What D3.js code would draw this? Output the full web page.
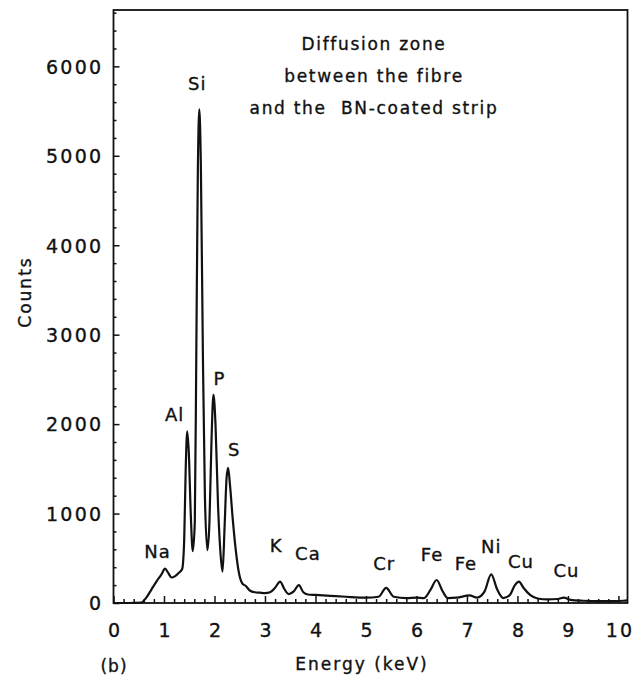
<!DOCTYPE html>
<html>
<head>
<meta charset="utf-8">
<script src="https://d3js.org/d3.v7.min.js"></script>
<style>
  body { margin: 0; background: #fff; }
  text { font-family: "DejaVu Sans", sans-serif; fill: #111; stroke: #111; stroke-width: 0.35px; }
</style>
</head>
<body>
<svg width="633" height="680" id="svg_eds"></svg>
<script>

// spectrum (energy in keV, counts)
var energy = [0.0, 0.3, 0.55, 0.65, 0.75, 0.85, 0.95, 1.02, 1.08, 1.15, 1.22, 1.3, 1.36,
  1.40, 1.43, 1.46, 1.49, 1.53, 1.57, 1.61, 1.64, 1.67, 1.70, 1.73, 1.77, 1.81, 1.86,
  1.90, 1.94, 1.98, 2.02, 2.07, 2.12, 2.16, 2.20, 2.24, 2.27, 2.31, 2.36, 2.42, 2.48,
  2.55, 2.62, 2.70, 2.8, 2.9, 3.0, 3.1, 3.2, 3.3, 3.38, 3.47, 3.57, 3.67, 3.76, 3.85,
  4.0, 4.3, 4.6, 5.0, 5.25, 5.40, 5.55, 5.8, 6.0, 6.15, 6.28, 6.40, 6.52, 6.62, 6.8,
  7.05, 7.2, 7.35, 7.48, 7.6, 7.72, 7.85, 7.95, 8.03, 8.12, 8.25, 8.4, 8.6, 8.8, 8.92,
  9.05, 9.3, 9.6, 9.9, 10.1, 10.18];
var counts = [0, 0, 5, 60, 150, 240, 320, 385, 340, 285, 300, 340, 380,
  700, 1500, 1920, 1700, 1000, 580, 900, 2800, 4800, 5520, 4900, 2800, 1200, 590,
  900, 1800, 2330, 2000, 1100, 550, 350, 850, 1400, 1510, 1300, 950, 600, 350,
  220, 190, 140, 120, 115, 110, 120, 170, 240, 160, 100, 130, 200, 120, 95,
  90, 80, 70, 60, 70, 170, 70, 55, 60, 55, 150, 257, 130, 55, 60,
  85, 60, 130, 320, 150, 55, 90, 200, 240, 170, 90, 50, 40, 45, 60,
  35, 25, 20, 20, 25, 30];

// peak labels
var peak_names = ["Na", "Al", "Si", "P", "S", "K", "Ca", "Cr", "Fe", "Fe", "Ni", "Cu", "Cu"];
var peak_x = [0.87, 1.21, 1.66, 2.1, 2.39, 3.22, 3.85, 5.36, 6.31, 6.98, 7.48, 8.07, 8.97];
var peak_y = [500, 2040, 5740, 2440, 1640, 570, 480, 370, 470, 370, 560, 390, 290];

var x_ticks = [0, 1, 2, 3, 4, 5, 6, 7, 8, 9, 10];
var y_ticks = [0, 1000, 2000, 3000, 4000, 5000, 6000];

var note_lines = ["Diffusion zone", "between the fibre", "and the  BN-coated strip"];

var svg = d3.select("#svg_eds");

var x = d3.scaleLinear().domain([0, 10.18]).range([113.5, 627.5]);
var y = d3.scaleLinear().domain([0, 6630]).range([603, 10]);

// minor ticks
var x_minor = d3.range(0, 10.01, 0.2).filter(function(d) { return Math.abs(d - Math.round(d)) > 0.01; });
var y_minor = d3.range(0, 6601, 200).filter(function(d) { return d % 1000 != 0; });

svg.append("g")
    .attr("transform", "translate(0," + y(0) + ")")
    .call(d3.axisBottom(x).tickValues(x_minor).tickSizeInner(-4).tickSizeOuter(0).tickFormat(""))
    .call(function(g) { g.select(".domain").remove(); });

svg.append("g")
    .attr("transform", "translate(" + x(0) + ",0)")
    .call(d3.axisLeft(y).tickValues(y_minor).tickSizeInner(-3).tickSizeOuter(0).tickFormat(""))
    .call(function(g) { g.select(".domain").remove(); });

// major ticks and labels
var xAxis = svg.append("g")
    .attr("transform", "translate(0," + y(0) + ")")
    .call(d3.axisBottom(x).tickValues(x_ticks).tickSizeInner(-7).tickSizeOuter(0).tickPadding(0).tickFormat(d3.format("d")));
xAxis.select(".domain").remove();
xAxis.selectAll("text")
    .attr("x", 1)
    .attr("y", 34)
    .attr("dy", 0)
    .attr("font-size", "19px")
    .attr("letter-spacing", "2px")
    .style("font-family", "DejaVu Sans");

var yAxis = svg.append("g")
    .attr("transform", "translate(" + x(0) + ",0)")
    .call(d3.axisLeft(y).tickValues(y_ticks).tickSizeInner(-6).tickSizeOuter(0).tickFormat(d3.format("d")));
yAxis.select(".domain").remove();
yAxis.selectAll("text")
    .attr("x", -10)
    .attr("dy", "0.36em")
    .attr("font-size", "19px")
    .attr("letter-spacing", "2.3px")
    .style("font-family", "DejaVu Sans");

svg.selectAll(".tick line").attr("stroke", "#111").attr("stroke-width", 1.5);

// frame
svg.append("rect")
    .attr("x", x(0))
    .attr("y", y(6630))
    .attr("width", x(10.18) - x(0))
    .attr("height", y(0) - y(6630))
    .attr("fill", "none")
    .attr("stroke", "#111")
    .attr("stroke-width", 1.8);

// spectrum
var pts = energy.map(function(e, i) { return [e, counts[i]]; });
var line = d3.line()
    .x(function(d) { return x(d[0]); })
    .y(function(d) { return y(d[1]); })
    .curve(d3.curveMonotoneX);

svg.append("path")
    .datum(pts)
    .attr("fill", "none")
    .attr("stroke", "#111")
    .attr("stroke-width", 2.2)
    .attr("stroke-linejoin", "round")
    .attr("d", line);

// peak labels
svg.selectAll(".peak")
    .data(peak_names)
    .enter()
    .append("text")
    .attr("class", "peak")
    .attr("x", function(d, i) { return x(peak_x[i]); })
    .attr("y", function(d, i) { return y(peak_y[i]); })
    .attr("text-anchor", "middle")
    .attr("font-size", "18px")
    .attr("letter-spacing", "1px")
    .text(function(d) { return d; });

// note
svg.selectAll(".note")
    .data(note_lines)
    .enter()
    .append("text")
    .attr("class", "note")
    .attr("x", 374)
    .attr("y", function(d, i) { return 50 + i * 32; })
    .attr("text-anchor", "middle")
    .attr("font-size", "17px")
    .attr("letter-spacing", "1.7px")
    .style("white-space", "pre")
    .text(function(d) { return d; });

// axis titles
svg.append("text")
    .attr("transform", "translate(31,292) rotate(-90)")
    .attr("text-anchor", "middle")
    .attr("font-size", "17px")
    .attr("letter-spacing", "2px")
    .text("Counts");

svg.append("text")
    .attr("x", 362)
    .attr("y", 670)
    .attr("text-anchor", "middle")
    .attr("font-size", "17px")
    .attr("letter-spacing", "2px")
    .text("Energy (keV)");

svg.append("text")
    .attr("x", 114)
    .attr("y", 672)
    .attr("text-anchor", "middle")
    .attr("font-size", "17px")
    .attr("letter-spacing", "1px")
    .text("(b)");

</script>
</body>
</html>
